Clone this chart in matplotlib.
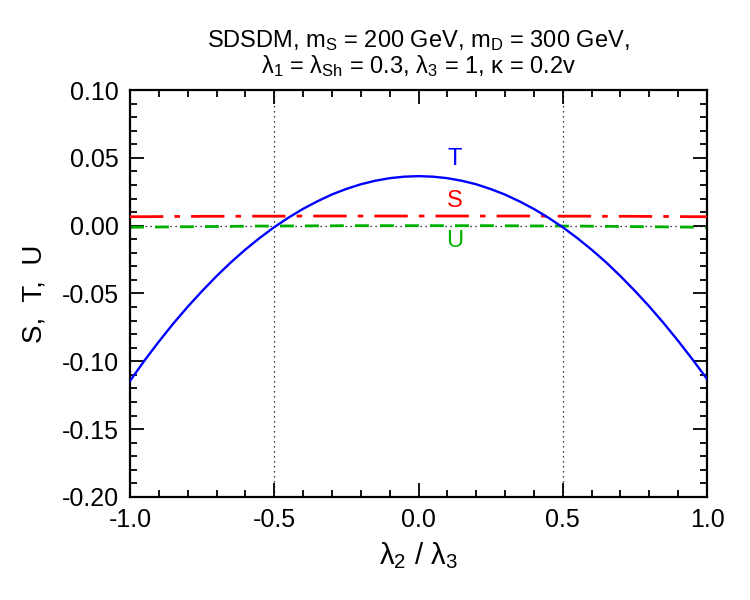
import matplotlib
matplotlib.use("Agg")
import matplotlib.pyplot as plt
from matplotlib.ticker import MultipleLocator, FormatStrFormatter

plt.rcParams['font.family'] = ['Liberation Sans', 'DejaVu Sans']
plt.rcParams['mathtext.fontset'] = 'custom'
plt.rcParams['mathtext.rm'] = 'Liberation Sans'
plt.rcParams['mathtext.it'] = 'Liberation Sans:italic'

# lambda2/lambda3
x = [-1.0, -0.95, -0.9, -0.85, -0.8, -0.75, -0.7, -0.65, -0.6, -0.55, -0.5,
     -0.45, -0.4, -0.35, -0.3, -0.25, -0.2, -0.15, -0.1, -0.05, 0.0,
     0.05, 0.1, 0.15, 0.2, 0.25, 0.3, 0.35, 0.4, 0.45, 0.5,
     0.55, 0.6, 0.65, 0.7, 0.75, 0.8, 0.85, 0.9, 0.95, 1.0]
T = [-0.1145, -0.0995, -0.0855, -0.0722, -0.0598, -0.0482, -0.0372, -0.0270, -0.0176, -0.0090, -0.0011,
     0.0060, 0.0124, 0.0180, 0.0230, 0.0271, 0.0305, 0.0331, 0.0350, 0.0361, 0.0365,
     0.0361, 0.0350, 0.0331, 0.0305, 0.0270, 0.0229, 0.0179, 0.0123, 0.0059, -0.0012,
     -0.0091, -0.0177, -0.0270, -0.0372, -0.0481, -0.0596, -0.0719, -0.0850, -0.0987, -0.1130]
S = [0.0066, 0.0066, 0.0067, 0.0068, 0.0068, 0.0069, 0.0069, 0.0069, 0.0070, 0.0070, 0.0070,
     0.0070, 0.0071, 0.0071, 0.0071, 0.0071, 0.0071, 0.0071, 0.0071, 0.0071, 0.0071,
     0.0071, 0.0071, 0.0071, 0.0071, 0.0071, 0.0071, 0.0071, 0.0071, 0.0070, 0.0070,
     0.0070, 0.0070, 0.0069, 0.0069, 0.0069, 0.0068, 0.0068, 0.0067, 0.0066, 0.0066]
U = [-0.0012, -0.0011, -0.0010, -0.0009, -0.0008, -0.0007, -0.0006, -0.0005, -0.0004, -0.0003, -0.0003,
     -0.0002, -0.0002, -0.0001, -0.0001, 0.0000, 0.0000, 0.0000, 0.0000, 0.0000, 0.0000,
     0.0000, 0.0000, 0.0000, 0.0000, 0.0000, -0.0001, -0.0001, -0.0002, -0.0002, -0.0003,
     -0.0003, -0.0004, -0.0005, -0.0006, -0.0007, -0.0008, -0.0009, -0.0010, -0.0011, -0.0012]

fig = plt.figure(figsize=(7.5, 6), dpi=100)
ax = fig.add_axes([0.1733, 0.1717, 0.7694, 0.6783])

ax.axhline(0, color='black', lw=0.9, ls=(0, (1, 3)), zorder=1)
for xv in (-0.5, 0.5):
    ax.axvline(xv, color='black', lw=0.9, ls=(0, (1, 3)), zorder=1)

ax.plot(x, U, color='#00b000', lw=2.0, ls=(0, (5, 4)), zorder=2)
ax.plot(x, S, color='red', lw=2.0, ls=(0, (12, 4, 2, 4)), zorder=3)
ax.plot(x, T, color='blue', lw=1.7, zorder=4)

ax.text(0.125, 0.0495, 'T', color='blue', fontsize=17, ha='center', va='center')
ax.text(0.125, 0.0185, 'S', color='red', fontsize=17, ha='center', va='center')
ax.text(0.125, -0.0112, 'U', color='#00b000', fontsize=17, ha='center', va='center')

ax.set_xlim(-1.0, 1.0)
ax.set_ylim(-0.20, 0.10)
ax.xaxis.set_major_locator(MultipleLocator(0.5))
ax.xaxis.set_minor_locator(MultipleLocator(0.1))
ax.yaxis.set_major_locator(MultipleLocator(0.05))
ax.yaxis.set_minor_locator(MultipleLocator(0.01))
ax.xaxis.set_major_formatter(FormatStrFormatter('%.1f'))
ax.yaxis.set_major_formatter(FormatStrFormatter('%.2f'))
ax.tick_params(which='both', direction='in', top=True, right=True, labelsize=18, width=1.3)
ax.tick_params(which='major', length=10, pad=8)
ax.tick_params(which='minor', length=5)
for sp in ax.spines.values():
    sp.set_linewidth(1.6)

ax.set_xlabel(r'λ$_{2}$ / λ$_{3}$', fontsize=21, labelpad=6)
ax.set_ylabel('S,  T,  U', fontsize=20, labelpad=10)
ax.set_title('SDSDM, m$_\\mathrm{S}$ = 200 GeV, m$_\\mathrm{D}$ = 300 GeV,\n'
             'λ$_{1}$ = λ$_\\mathrm{Sh}$ = 0.3, λ$_{3}$ = 1, κ = 0.2v',
             fontsize=17, linespacing=1.0, pad=12)

fig.savefig('out.png', dpi=100)
